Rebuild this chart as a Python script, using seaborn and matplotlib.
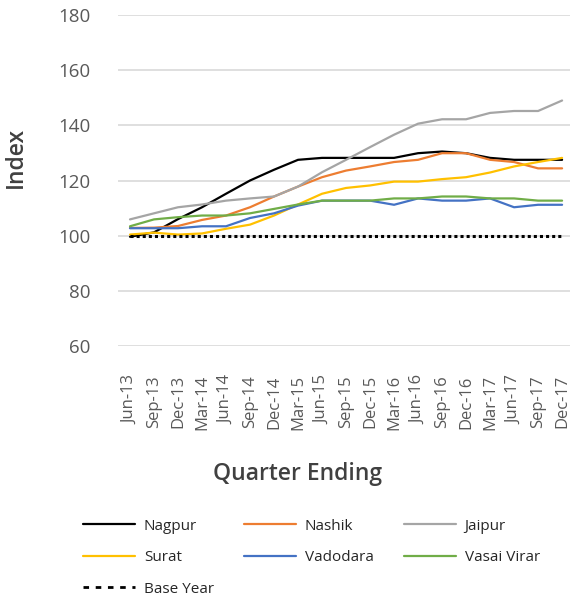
import numpy as np
import pandas as pd
import matplotlib.pyplot as plt
import seaborn as sns


QUARTERS = ["Jun-13", "Sep-13", "Dec-13", "Mar-14", "Jun-14", "Sep-14", "Dec-14",
            "Mar-15", "Jun-15", "Sep-15", "Dec-15", "Mar-16", "Jun-16", "Sep-16",
            "Dec-16", "Mar-17", "Jun-17", "Sep-17", "Dec-17"]

nagpur = [99.6, 101.2, 106.0, 110.3, 115.2, 120.0, 123.9, 127.5, 128.2, 128.2,
          128.2, 128.2, 129.9, 130.5, 129.9, 128.2, 127.5, 127.5, 127.5]
nashik = [102.8, 102.9, 103.5, 105.7, 107.3, 110.3, 114.2, 117.8, 121.2, 123.6,
          125.1, 126.7, 127.5, 129.9, 129.9, 127.5, 126.7, 124.4, 124.4]
jaipur = [105.9, 108.1, 110.3, 111.3, 112.7, 113.5, 114.2, 117.8, 123.0, 127.5,
          132.1, 136.6, 140.6, 142.2, 142.2, 144.5, 145.2, 145.2, 149.0]
surat = [100.4, 101.1, 100.4, 100.8, 102.5, 104.0, 107.3, 111.3, 115.2, 117.3,
         118.2, 119.6, 119.6, 120.5, 121.2, 122.9, 125.1, 126.7, 128.2]
vadodara = [102.7, 102.7, 102.7, 103.4, 103.4, 106.4, 108.1, 110.9, 112.7, 112.7,
            112.7, 111.2, 113.5, 112.7, 112.7, 113.5, 110.3, 111.2, 111.2]
vasai_virar = [103.4, 105.9, 106.7, 107.3, 107.3, 108.1, 109.7, 111.3, 112.7, 112.7,
               112.7, 113.5, 113.5, 114.2, 114.2, 113.5, 113.5, 112.7, 112.7]
base_year = [100] * len(QUARTERS)

CITIES = ["Nagpur", "Nashik", "Jaipur", "Surat", "Vadodara", "Vasai Virar"]
COLORS = {"Nagpur": "#000000", "Nashik": "#ED7D31", "Jaipur": "#A5A5A5",
          "Surat": "#FFC000", "Vadodara": "#4472C4", "Vasai Virar": "#70AD47"}


def main():
    series = [nagpur, nashik, jaipur, surat, vadodara, vasai_virar]
    rows = []
    for city, vals in zip(CITIES, series):
        for i, v in enumerate(vals):
            rows.append((i, v, city))
    df = pd.DataFrame(rows, columns=["q", "index", "city"])

    sns.set_style("white")
    plt.rcParams["font.family"] = ["Open Sans", "DejaVu Sans"]

    fig = plt.figure(figsize=(5.73, 6.0), dpi=100)
    ax = fig.add_axes([118 / 573, 1 - 346 / 600, 452 / 573, 331 / 600])

    sns.lineplot(data=df, x="q", y="index", hue="city", hue_order=CITIES,
                 palette=COLORS, linewidth=1.6, ax=ax, legend=False)
    base_df = pd.DataFrame({"q": np.arange(len(QUARTERS)), "index": base_year})
    sns.lineplot(data=base_df, x="q", y="index", color="black", linewidth=2.2,
                 linestyle=(0, (1.0, 1.0)), ax=ax)

    ax.set_ylim(60, 180)
    ax.set_yticks(range(60, 181, 20))
    ax.set_xlim(-0.5, len(QUARTERS) - 1 + 0.33)
    ax.set_xticks(range(len(QUARTERS)))
    ax.set_xticklabels(QUARTERS, rotation=90, fontsize=12, color="#595959")
    ax.tick_params(axis="y", labelsize=13.5, labelcolor="#595959", length=0, pad=20)
    ax.tick_params(axis="x", length=0, pad=21)
    ax.grid(axis="y", color="#d9d9d9", linewidth=1.2)
    ax.set_axisbelow(True)
    for s in ax.spines.values():
        s.set_visible(False)

    ax.set_xlabel("Quarter Ending", fontsize=16.5, fontweight="semibold", color="#404040")
    ax.xaxis.set_label_coords(0.398, -0.35)
    ax.set_ylabel("Index", fontsize=16.5, fontweight="semibold", color="#404040")
    ax.yaxis.set_label_coords(-0.199, 0.571)

    handles = {c: plt.Line2D([], [], color=COLORS[c], linewidth=1.6) for c in CITIES}
    handles["Base Year"] = plt.Line2D([], [], color="black", linewidth=2.0,
                                      linestyle=(0, (2.0, 2.4)))
    order = ["Nagpur", "Surat", "Base Year", "Nashik", "Vadodara", "Jaipur", "Vasai Virar"]
    fig.legend([handles[k] for k in order], order, ncol=3, frameon=False,
               loc="upper left", bbox_to_anchor=(69 / 573, 1 - 505 / 600),
               fontsize=11, handlelength=3.4, handletextpad=0.6,
               columnspacing=1.95, labelspacing=1.08, labelcolor="#262626")

    plt.savefig("out.png", dpi=100)
    plt.close()


if __name__ == "__main__":
    main()
